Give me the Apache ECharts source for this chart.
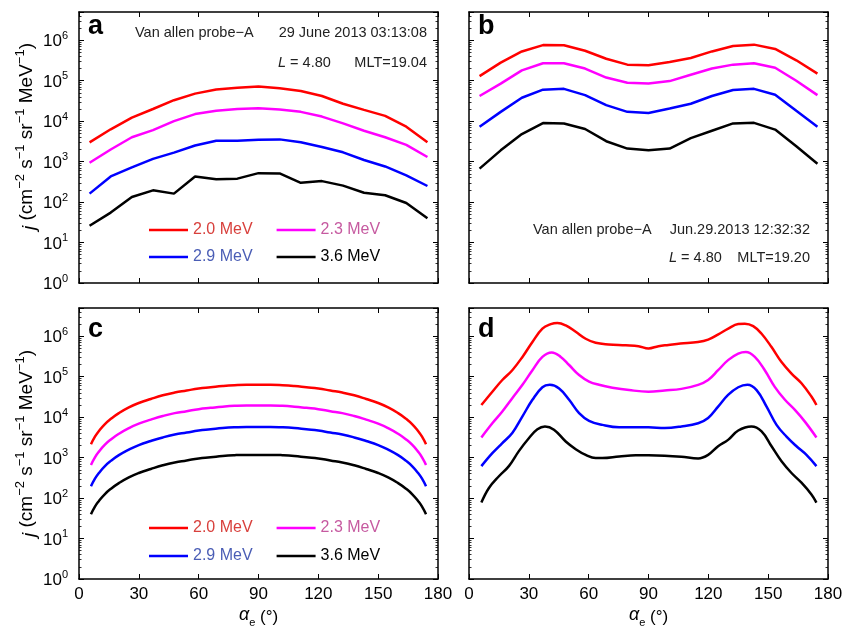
<!DOCTYPE html>
<html><head><meta charset="utf-8">
<script src="https://cdn.jsdelivr.net/npm/echarts@6.0.0/dist/echarts.min.js"></script>
<style>html,body{margin:0;padding:0;background:#fff}#chart{width:847px;height:629px}</style>
</head><body><div id="chart"></div>
<script>
// ---------- data ----------
const energies = ['2.0 MeV', '2.3 MeV', '2.9 MeV', '3.6 MeV'];
const lineColors = ['#ff0000', '#ff00ff', '#0000ff', '#000000'];
const legendTextColors = ['#d8403c', '#c65aa0', '#4a5db5', '#000000'];
const xTickInterval = 30;

// REPT pitch-angle bin centres (panels a, b)
const binAngles = [5.3, 15.9, 26.5, 37.1, 47.6, 58.2, 68.8, 79.4, 90, 100.6, 111.2, 121.8, 132.4, 142.9, 153.5, 164.1, 174.7];

// panel a: observed 29 June 2013 03:13:08
const a20 = [3000, 6300, 12300, 20000, 33000, 48000, 61000, 67000, 72000, 65000, 56000, 42000, 27000, 19000, 13500, 7300, 3000];
const a23 = [940, 2000, 4000, 6000, 10000, 15000, 18000, 20000, 21000, 19500, 17000, 13000, 8800, 5800, 4000, 2600, 1300];
const a29 = [162, 430, 720, 1170, 1670, 2500, 3300, 3300, 3500, 3550, 3000, 2300, 1700, 1100, 760, 460, 250];
const a36 = [26, 55, 134, 195, 162, 430, 365, 380, 520, 510, 300, 330, 255, 170, 148, 95, 40];

// panel b: observed Jun.29.2013 12:32:32
const b20 = [130000, 280000, 530000, 760000, 750000, 550000, 350000, 250000, 240000, 290000, 365000, 530000, 720000, 780000, 610000, 320000, 150000];
const b23 = [42000, 85000, 180000, 270000, 270000, 200000, 120000, 89000, 85000, 98000, 140000, 200000, 250000, 270000, 210000, 100000, 44000];
const b29 = [7300, 17000, 38000, 60000, 63000, 44000, 25000, 17000, 16000, 20500, 27000, 42000, 59000, 63000, 45000, 18000, 7300];
const b36 = [670, 1900, 4800, 9000, 8800, 6400, 3200, 2100, 1900, 2100, 3800, 5800, 8800, 9100, 6200, 2400, 890];

// panel c: initial model distribution
const cAngles = [6, 8, 10, 13, 16, 20, 25, 30, 36, 42, 48, 54, 60, 66, 72, 78, 84, 90, 96, 102, 108, 114, 120, 126, 132, 138, 144, 150, 155, 160, 164, 167, 170, 172, 174];
const c20 = [2140, 3300, 4570, 6760, 9120, 12600, 17400, 22400, 28200, 34700, 40700, 45700, 51300, 55000, 58900, 61700, 63100, 63100, 63100, 61700, 58900, 55000, 51300, 45700, 40700, 34700, 28200, 22400, 17400, 12600, 9120, 6760, 4570, 3300, 2140];
const c23 = [661, 1020, 1410, 2090, 2820, 3890, 5370, 6920, 8710, 10700, 12600, 14100, 15800, 17000, 18200, 19100, 19500, 19500, 19500, 19100, 18200, 17000, 15800, 14100, 12600, 10700, 8710, 6920, 5370, 3890, 2820, 2090, 1410, 1020, 661];
const c29 = [195, 302, 417, 617, 832, 1150, 1580, 2040, 2570, 3160, 3720, 4170, 4680, 5010, 5370, 5620, 5750, 5750, 5750, 5620, 5370, 5010, 4680, 4170, 3720, 3160, 2570, 2040, 1580, 1150, 832, 617, 417, 302, 195];
const c36 = [39.8, 61.7, 85.1, 126, 170, 234, 324, 417, 525, 646, 759, 851, 955, 1020, 1100, 1150, 1170, 1170, 1170, 1150, 1100, 1020, 955, 851, 759, 646, 525, 417, 324, 234, 170, 126, 85.1, 61.7, 39.8];

// panel d: simulated distribution
const dAng20 = [6.2, 11.7, 16.7, 21.7, 26.8, 31.8, 36.8, 41, 44.3, 48.5, 53.5, 58.5, 63.5, 70, 78.6, 85, 90, 95, 100, 106, 114.8, 119.9, 125, 130, 135, 138.3, 142.5, 146.6, 151.6, 156.6, 161.7, 166.7, 171.7, 174.2];
const d20 = [20000, 42700, 83000, 145000, 309000, 724000, 1550000, 2000000, 2140000, 1860000, 1290000, 870000, 690000, 630000, 600000, 570000, 500000, 570000, 610000, 660000, 724000, 830000, 1120000, 1550000, 2000000, 2040000, 1780000, 1170000, 550000, 234000, 120000, 69000, 32400, 20000];
const dAng23 = [6.2, 11.7, 16.7, 21.7, 26.8, 31.8, 36.8, 41.5, 46, 50.2, 55.2, 60.2, 65.2, 71.9, 80.3, 90, 98.1, 106.5, 114.9, 119.9, 124.9, 129.9, 135, 138.8, 143.3, 148.3, 153.3, 158.4, 163.4, 168.4, 174.2];
const d23 = [3160, 7080, 13800, 29500, 63100, 145000, 309000, 398000, 309000, 195000, 110000, 75900, 63100, 53700, 46800, 42700, 45700, 50100, 63100, 83200, 145000, 257000, 372000, 407000, 309000, 145000, 56200, 26900, 15100, 7760, 3160];
const dAng29 = [6.2, 11.7, 16.7, 21.7, 26.8, 31.8, 36.8, 40.5, 45.2, 50.2, 55.2, 60.2, 66.9, 75.3, 83.6, 90, 98.1, 106.5, 114.9, 119.9, 124.9, 129.9, 135, 139.6, 144.2, 149.2, 154.2, 159.2, 164.2, 169.2, 174.2];
const d29 = [617, 1290, 2290, 4070, 10500, 26900, 55000, 63100, 51300, 26900, 12600, 8130, 6460, 5620, 5620, 5620, 5370, 5890, 7080, 9550, 18200, 35500, 55000, 63100, 46800, 18200, 6460, 3310, 1910, 1170, 617];
const dAng36 = [6.2, 10, 15, 20, 25, 30, 34.3, 38.1, 42.6, 48.5, 53.5, 58.5, 63.5, 66.9, 75.3, 83.6, 90, 98.1, 106.5, 114.9, 119.9, 124.9, 129.9, 135, 141.6, 146.7, 151.7, 156.7, 161.7, 166.7, 171.7, 174.2];
const d36 = [77.6, 178, 347, 617, 1450, 3020, 5010, 5890, 4900, 2510, 1620, 1170, 977, 977, 1070, 1150, 1150, 1120, 1050, 955, 1170, 1910, 2750, 4680, 5890, 4470, 1910, 813, 417, 240, 123, 77.6];

// ---------- chart ----------
const FF = '"Liberation Sans", Arial, Helvetica, sans-serif';
const panels = [
  { xs: [binAngles, binAngles, binAngles, binAngles], ys: [a20, a23, a29, a36], smooth: false },
  { xs: [binAngles, binAngles, binAngles, binAngles], ys: [b20, b23, b29, b36], smooth: false },
  { xs: [cAngles, cAngles, cAngles, cAngles], ys: [c20, c23, c29, c36], smooth: 0.5 },
  { xs: [dAng20, dAng23, dAng29, dAng36], ys: [d20, d23, d29, d36], smooth: 0.4 }
];
const grids = [
  { left: 79, top: 12, width: 359, height: 271 },
  { left: 469, top: 12, width: 359, height: 271 },
  { left: 79, top: 308, width: 359, height: 272 },
  { left: 469, top: 308, width: 359, height: 272 }
];
const yNameShift = [22, 0, 0, 0];

function logLabel(v) {
  const e = Math.log10(v), r = Math.round(e);
  if (Math.abs(e - r) > 1e-6) return '';
  return '{b|10}{s|' + r + '}';
}
const axisLine = { show: true, onZero: false, lineStyle: { color: '#000', width: 1.5 } };
const tick = { show: true, inside: true, length: 5, lineStyle: { color: '#000', width: 1 } };
const yName = '{i|j} (cm{s|\u22122} s{s|\u22121} sr{s|\u22121} MeV{s|\u22121})';
const xName = '{a|\u03b1}{e|e} (\u00b0)';

const xAxis = [], yAxis = [], series = [];
grids.forEach((g, gi) => {
  const showX = gi >= 2, showY = gi % 2 === 0;
  xAxis.push({
    gridIndex: gi, type: 'value', min: 0, max: 180, interval: xTickInterval, position: 'bottom',
    axisLine, axisTick: tick, splitLine: { show: false },
    axisLabel: { show: showX, fontSize: 17, color: '#000', fontFamily: FF, margin: 7 },
    name: showX ? xName : '', nameLocation: 'middle', nameGap: 27,
    nameTextStyle: { fontSize: 17, color: '#000', fontFamily: FF,
      rich: { a: { fontSize: 18, fontFamily: FF, fontStyle: 'italic', lineHeight: 22, verticalAlign: 'top' },
              e: { fontSize: 11, fontFamily: FF, lineHeight: 12, verticalAlign: 'bottom' } } }
  });
  xAxis.push({
    gridIndex: gi, type: 'value', min: 0, max: 180, interval: xTickInterval, position: 'top',
    axisLine, axisTick: tick, splitLine: { show: false }, axisLabel: { show: false }
  });
  const yBase = {
    gridIndex: gi, type: 'log', logBase: 10, min: 1, max: 5e6,
    axisLine, axisTick: tick, splitLine: { show: false },
    minorTick: { show: true, splitNumber: 9, length: 2.5, lineStyle: { color: '#000', width: 0.8 } }
  };
  yAxis.push(Object.assign({}, yBase, {
    position: 'left',
    axisLabel: { show: showY, formatter: logLabel, margin: 11, color: '#000',
      rich: { b: { fontSize: 17, fontFamily: FF, color: '#000', lineHeight: 20, verticalAlign: 'bottom' },
              s: { fontSize: 11, fontFamily: FF, color: '#000', lineHeight: 12, verticalAlign: 'top' } } },
    name: showY ? yName : '', nameLocation: 'middle', nameGap: 40, nameRotate: 90,
    nameTextStyle: { fontSize: 19, color: '#000', fontFamily: FF, padding: [0, 0, 0, yNameShift[gi]],
      rich: { i: { fontSize: 19, fontFamily: FF, fontStyle: 'italic', lineHeight: 25, verticalAlign: 'bottom' },
              s: { fontSize: 13, fontFamily: FF, lineHeight: 14, verticalAlign: 'top' } } }
  }));
  yAxis.push(Object.assign({}, yBase, { position: 'right', axisLabel: { show: false } }));

  const p = panels[gi];
  energies.forEach((name, k) => {
    series.push({
      name, type: 'line', xAxisIndex: gi * 2, yAxisIndex: gi * 2,
      data: p.xs[k].map((x, i) => [x, p.ys[k][i]]),
      symbol: 'none', smooth: p.smooth,
      lineStyle: { color: lineColors[k], width: 2.5 }, itemStyle: { color: lineColors[k] },
      silent: true, z: 3
    });
  });
});

function legendRow(names, idx, left, top) {
  return {
    data: names.map((n, j) => ({ name: n, textStyle: { color: legendTextColors[idx + j] } })),
    left, top, orient: 'horizontal', selectedMode: false, icon: 'rect',
    itemWidth: 39, itemHeight: 2.5, itemGap: 24, padding: 0,
    textStyle: { fontSize: 16, fontFamily: FF }
  };
}
const legend = [
  legendRow([energies[0], energies[1]], 0, 149, 222),
  legendRow([energies[2], energies[3]], 2, 149, 249),
  legendRow([energies[0], energies[1]], 0, 149, 520),
  legendRow([energies[2], energies[3]], 2, 149, 548)
];

function txt(x, y, text, align, opts) {
  return Object.assign({ type: 'text', x, y, silent: true, style: Object.assign({
    text, fill: '#222', fontSize: 14.5, fontFamily: FF, align: align, textAlign: align,
    verticalAlign: 'middle', textVerticalAlign: 'middle' }, opts || {}) });
}
const letter = { fontSize: 27, fontWeight: 'bold', fill: '#000' };
const italicRich = { rich: { i: { fontStyle: 'italic', fontSize: 14.5, fontFamily: FF, fill: '#222' } } };
const graphic = [
  txt(88, 27, 'a', 'left', letter),
  txt(478, 27, 'b', 'left', letter),
  txt(88, 330, 'c', 'left', letter),
  txt(478, 330, 'd', 'left', letter),
  txt(135, 33, 'Van allen probe\u2212A', 'left'),
  txt(427, 33, '29 June 2013 03:13:08', 'right'),
  txt(278, 63, '{i|L} = 4.80', 'left', italicRich),
  txt(427, 63, 'MLT=19.04', 'right'),
  txt(533, 230, 'Van allen probe\u2212A', 'left'),
  txt(810, 230, 'Jun.29.2013 12:32:32', 'right'),
  txt(669, 258, '{i|L} = 4.80', 'left', italicRich),
  txt(810, 258, 'MLT=19.20', 'right')
];

const chart = echarts.init(document.getElementById('chart'), null, { renderer: 'canvas' });
chart.setOption({
  animation: false, backgroundColor: '#fff',
  grid: grids.map(g => Object.assign({ containLabel: false }, g)),
  xAxis, yAxis, series, legend, graphic
});
</script></body></html>
